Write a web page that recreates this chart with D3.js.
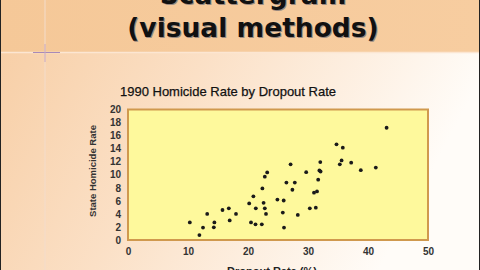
<!DOCTYPE html>
<html><head><meta charset="utf-8">
<script src="https://cdn.jsdelivr.net/npm/d3@7"></script>
<style>html,body{margin:0;padding:0;overflow:hidden;background:#fff}</style>
</head><body>
<script>
const dropout = [43.1,34.75,35.8,27.1,32.05,35.6,35.3,37.2,38.8,41.3,29.7,31.9,32.1,23.2,22.8,31.7,26.4,27.8,22.4,27.4,31.0,31.5,20.9,24.9,25.95,20.2,22.6,21.3,22.8,30.3,31.3,23.0,25.8,28.3,20.5,21.25,22.3,26.0,10.3,11.9,12.5,13.2,14.4,14.3,15.75,16.8,18.0,16.95];
const homicide = [17.2,14.67,14.15,11.6,11.95,12.2,11.6,11.85,10.7,11.1,10.4,10.65,10.5,10.35,9.7,9.25,8.8,8.8,7.9,7.7,7.25,7.45,6.7,6.2,6.05,5.6,5.7,4.85,4.85,4.85,4.95,4.0,4.2,3.85,2.7,2.4,2.4,1.9,2.7,0.75,1.9,4.0,2.7,1.95,4.6,4.85,4.0,3.0];
const xTicks = [0,10,20,30,40,50];
const yTicks = [0,2,4,6,8,10,12,14,16,18,20];
const slideTitle = ["Scattergram","(visual methods)"];
const chartTitle = "1990 Homicide Rate by Dropout Rate";
const xTitle = "Dropout Rate (%)";
const yTitle = "State Homicide Rate";

const W=480,H=270;
const svg=d3.select("body").append("svg").attr("width",W).attr("height",H);
const defs=svg.append("defs");
const g1=defs.append("linearGradient").attr("id","bg").attr("x1","0").attr("y1","0").attr("x2","1").attr("y2","0.3");
g1.append("stop").attr("offset","0").attr("stop-color","#F7CDA3");
g1.append("stop").attr("offset","0.45").attr("stop-color","#FBE0C6");
g1.append("stop").attr("offset","1").attr("stop-color","#FFFCF8");
const g2=defs.append("linearGradient").attr("id","band").attr("x1","0").attr("y1","0").attr("x2","1").attr("y2","0");
g2.append("stop").attr("offset","0").attr("stop-color","#F5C898");
g2.append("stop").attr("offset","1").attr("stop-color","#F7CDA0");

svg.append("rect").attr("width",W).attr("height",H).attr("fill","url(#bg)");
svg.append("rect").attr("width",W).attr("height",52).attr("fill","url(#band)");
svg.append("line").attr("x1",0).attr("x2",W).attr("y1",52.5).attr("y2",52.5).attr("stroke","#FCE6D2").attr("stroke-width",1.5);
svg.append("line").attr("x1",45).attr("x2",45).attr("y1",0).attr("y2",H).attr("stroke","#F3DCCB").attr("stroke-width",1);
svg.append("line").attr("x1",33).attr("x2",60).attr("y1",52.5).attr("y2",52.5).attr("stroke","#A88AB8").attr("stroke-width",1);
svg.append("line").attr("x1",45).attr("x2",45).attr("y1",44).attr("y2",62).attr("stroke","#C8A8C0").attr("stroke-width",1);

// slide titles
const ty=[5,38];
slideTitle.forEach((t,i)=>{
  svg.append("text").attr("x",254).attr("y",ty[i]).attr("text-anchor","middle")
    .attr("font-family","DejaVu Sans").attr("font-weight","bold").attr("font-size",26.5)
    .attr("fill","#9a8a80").text(t);
  svg.append("text").attr("x",253).attr("y",ty[i]-1).attr("text-anchor","middle")
    .attr("font-family","DejaVu Sans").attr("font-weight","bold").attr("font-size",26.5)
    .attr("fill","#111").text(t);
});

const x=d3.scaleLinear().domain([0,50]).range([128,428]);
const y=d3.scaleLinear().domain([0,20]).range([240,109.5]);

svg.append("text").attr("x",228).attr("y",96).attr("text-anchor","middle")
  .attr("font-family","Liberation Sans, Arial").attr("font-size",13).attr("fill","#111")
  .attr("stroke","#111").attr("stroke-width",0.25).text(chartTitle);

svg.append("rect").attr("x",x(0)).attr("y",y(20)).attr("width",x(50)-x(0)).attr("height",y(0)-y(20))
  .attr("fill","#FEF99C").attr("stroke","#D0994E").attr("stroke-width",2);

const xa=svg.append("g").attr("transform","translate(0,248)")
  .call(d3.axisBottom(x).tickValues(xTicks).tickSize(0).tickPadding(0).tickFormat(d3.format("d")));
const ya=svg.append("g").attr("transform","translate(121,0)")
  .call(d3.axisLeft(y).tickValues(yTicks).tickSize(0).tickPadding(0).tickFormat(d3.format("d")));
[xa,ya].forEach(a=>{
  a.select(".domain").remove();
  a.selectAll("text").attr("font-family","Liberation Sans, Arial").attr("font-weight","bold")
   .attr("font-size",10).attr("fill","#333");
});

svg.append("g").selectAll("circle").data(dropout).join("circle")
  .attr("cx",(d)=>x(d)).attr("cy",(d,i)=>y(homicide[i])).attr("r",1.9).attr("fill","#1a1a1a");

svg.append("text").attr("x",272).attr("y",275).attr("text-anchor","middle")
  .attr("font-family","Liberation Sans, Arial").attr("font-weight","bold").attr("font-size",11).attr("fill","#222").text(xTitle);
svg.append("text").attr("transform","translate(96,171) rotate(-90)").attr("text-anchor","middle")
  .attr("font-family","Liberation Sans, Arial").attr("font-weight","bold").attr("font-size",9.5).attr("fill","#333").text(yTitle);

svg.append("rect").attr("x",0.5).attr("y",-1).attr("width",W-1).attr("height",H+2).attr("fill","none").attr("stroke","#222").attr("stroke-width",1);
</script>
</body></html>
